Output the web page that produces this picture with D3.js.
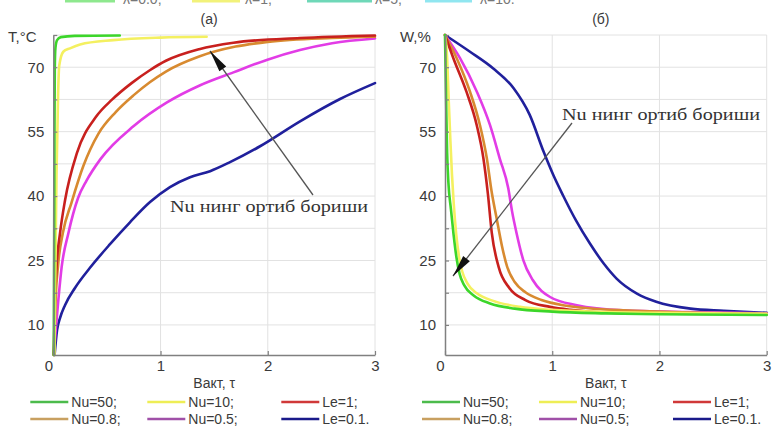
<!DOCTYPE html>
<html>
<head>
<meta charset="utf-8">
<script src="https://cdn.jsdelivr.net/npm/d3@7"></script>
<style>
  html, body { margin: 0; padding: 0; background: #fff; }
  svg { display: block; }
</style>
</head>
<body>
<svg id="chart" width="783" height="430"></svg>
<script>
// ---- Data -------------------------------------------------------------
const tauTicks = [0, 1, 2, 3];
const yGrid = [10, 17.5, 25, 32.5, 40, 47.5, 55, 62.5, 70, 77.5];
const yLabels = [10, 25, 40, 55, 70];
const seriesNames = ["Nu=50;", "Nu=10;", "Le=1;", "Nu=0.8;", "Nu=0.5;", "Le=0.1."];
const lineColors = ["#3cd62a", "#f4f060", "#c8201e", "#d88a30", "#e23ce6", "#20209c"];
const legendColors = ["#4cbb4c", "#eeee55", "#d03838", "#c8a060", "#a050a8", "#1a1a8a"];
const lambdaLabels = ["λ=0.0;", "λ=1;", "λ=5;", "λ=10."];
const lambdaColors = ["#8ee88e", "#f2f27a", "#6fd8b8", "#90e6f0"];

// Temperature T, °C versus time τ
const T_Nu50 = [[0.004,3],[0.008,30],[0.011,55],[0.014,70],[0.02,74.5],[0.035,76.3],[0.07,77],[0.2,77.3],[0.62,77.4]];
const T_Nu10 = [[0.01,3],[0.03,45],[0.045,64],[0.055,70.3],[0.093,73.6],[0.156,74.4],[0.25,75.3],[0.56,76.3],[1.0,76.9],[1.43,77.1]];
const T_Le1  = [[0.004,3],[0.016,15.8],[0.03,23.5],[0.063,31.4],[0.11,39.1],[0.22,50],[0.4,58.5],[0.55,62.5],[0.73,66.3],[0.9,69.3],[1.05,71.5],[1.36,74.2],[1.68,75.7],[2.3,76.8],[3,77.4]];
const T_Nu08 = [[0.006,3],[0.02,15],[0.045,24],[0.09,31.5],[0.17,38.5],[0.28,47],[0.42,54.5],[0.58,59.5],[0.75,63.5],[0.9,66.5],[1.05,69],[1.36,72.5],[1.7,74.8],[2.0,75.9],[2.6,76.8],[3,77.1]];
const T_Nu05 = [[0.006,3.5],[0.025,9.6],[0.047,15.8],[0.078,23.5],[0.14,31.3],[0.23,39.5],[0.31,43.6],[0.44,48.6],[0.75,56.3],[1.06,61.8],[1.37,65.8],[1.68,68.8],[1.99,71.7],[2.3,74],[2.6,75.6],[3,76.7]];
const T_Le01 = [[0.012,3],[0.035,8.8],[0.0625,11.6],[0.109,14.6],[0.202,18.6],[0.342,23.3],[0.529,28.8],[0.715,33.9],[0.902,38.6],[1.088,42.1],[1.275,44.4],[1.462,45.8],[1.648,47.9],[1.928,51.6],[2.301,57.4],[2.674,62.6],[3,66.3]];

// Moisture W, % versus time τ
const W_Nu50 = [[0,77.5],[0.005,70],[0.012,60],[0.02,50],[0.032,43],[0.055,37],[0.08,31],[0.105,26],[0.135,22],[0.18,19.2],[0.27,16.8],[0.42,15],[0.65,13.8],[1.0,13.1],[1.5,12.7],[2,12.5],[3,12.3]];
const W_Nu10 = [[0,77.5],[0.02,72],[0.035,62],[0.05,53],[0.065,45],[0.082,38],[0.105,31],[0.13,26],[0.16,22.5],[0.21,19.6],[0.3,17.3],[0.45,15.6],[0.7,14.2],[1.0,13.5],[1.5,13.0],[2,12.8],[3,12.6]];
const W_Le1  = [[0,77.5],[0.078,72.1],[0.2,64.3],[0.296,56.5],[0.358,48.8],[0.4,40.5],[0.436,31.5],[0.5,23.5],[0.6,18.6],[0.75,15.8],[0.98,14.2],[1.17,13.5],[1.4,13.0],[1.7,12.7],[3,12.5]];
const W_Nu08 = [[0,77.5],[0.109,72.1],[0.233,64.3],[0.326,56.5],[0.39,48.8],[0.435,41],[0.48,35],[0.53,28.5],[0.58,23.5],[0.65,20],[0.75,17.6],[0.9,15.8],[1.1,14.6],[1.66,13.4],[3,12.6]];
const W_Nu05 = [[0,77.5],[0.14,72.1],[0.297,64.3],[0.42,56.5],[0.51,48.8],[0.59,41.8],[0.625,36.5],[0.668,31.3],[0.73,25.1],[0.82,20.4],[0.98,16.5],[1.23,14.6],[1.66,13.4],[2.29,13.0],[3,12.7]];
const W_Le01 = [[0,77.5],[0.233,73.6],[0.45,69.7],[0.64,65.1],[0.79,58.9],[0.92,50.3],[1.01,44.9],[1.1,40.2],[1.22,34.4],[1.35,29.0],[1.48,24.3],[1.6,20.8],[1.79,17.3],[1.97,15.4],[2.29,13.8],[2.6,13.3],[3,12.8]];

const T_series = [T_Nu50, T_Nu10, T_Le1, T_Nu08, T_Nu05, T_Le01];
const W_series = [W_Nu50, W_Nu10, W_Le1, W_Nu08, W_Nu05, W_Le01];

// ---- Drawing ----------------------------------------------------------
const svg = d3.select("#chart");
const sans = "'Liberation Sans', Arial, sans-serif";
const serif = "'Liberation Serif', 'Times New Roman', serif";
const textColor = "#3a3a3a";

// Legend strip running off the top edge
const lambdaLineX = [[65, 115], [192, 240], [307, 372], [425, 472]];
const lambdaTextX = [123, 245, 375, 480];
lambdaLabels.forEach((lab, i) => {
  svg.append("line").attr("x1", lambdaLineX[i][0]).attr("x2", lambdaLineX[i][1])
    .attr("y1", 1).attr("y2", 1).attr("stroke", lambdaColors[i]).attr("stroke-width", 3);
  svg.append("text").attr("x", lambdaTextX[i]).attr("y", 4)
    .attr("font-family", sans).attr("font-size", 14).attr("fill", "#777").text(lab);
});

function panel(opts) {
  const x = d3.scaleLinear().domain([0, 3]).range([opts.left, opts.left + 321.7]);
  const y = d3.scaleLinear().domain([3, 77.5]).range([355, 35]);
  const g = svg.append("g");

  // grid
  g.selectAll(".hg").data(yGrid).join("line")
    .attr("x1", x(0)).attr("x2", x(3)).attr("y1", d => y(d)).attr("y2", d => y(d))
    .attr("stroke", "#e2e2e2").attr("stroke-width", 1);
  g.selectAll(".vg").data(tauTicks.slice(1)).join("line")
    .attr("x1", d => x(d)).attr("x2", d => x(d)).attr("y1", y(3)).attr("y2", y(77.5))
    .attr("stroke", "#e2e2e2").attr("stroke-width", 1);

  // curves
  const line = d3.line().x(d => x(d[0])).y(d => y(d[1])).curve(d3.curveMonotoneX);
  const order = [5, 4, 3, 2, 1, 0];
  order.forEach(i => {
    g.append("path").datum(opts.series[i]).attr("d", line)
      .attr("fill", "none").attr("stroke", lineColors[i]).attr("stroke-width", 2.6)
      .attr("stroke-linejoin", "round").attr("stroke-linecap", "round");
  });

  // axes
  const yAxis = d3.axisLeft(y).tickValues(yGrid).tickSizeInner(-4).tickSizeOuter(0)
    .tickPadding(9).tickFormat(d => yLabels.includes(d) ? d : "");
  const xAxis = d3.axisBottom(x).tickValues(tauTicks).tickSizeInner(-4).tickSizeOuter(0)
    .tickPadding(5).tickFormat(d3.format("d"));
  const ya = g.append("g").attr("transform", `translate(${x(0)},0)`).call(yAxis);
  const xa = g.append("g").attr("transform", `translate(0,${y(3)})`).call(xAxis);
  [ya, xa].forEach(a => {
    a.select(".domain").attr("stroke", "#808080").attr("stroke-width", 1.5);
    a.selectAll(".tick line").attr("stroke", "#808080").attr("stroke-width", 1.2);
    a.selectAll("text").attr("font-family", sans).attr("font-size", 15).attr("fill", textColor);
  });
  xa.selectAll(".tick text").filter(d => d === 0).attr("dx", -5);

  // titles
  g.append("text").attr("x", opts.yTitleX).attr("y", 42).attr("font-family", sans)
    .attr("font-size", 15).attr("fill", textColor).text(opts.yTitle);
  g.append("text").attr("x", (x(0) + x(3)) / 2 - 5).attr("y", 24).attr("text-anchor", "middle")
    .attr("font-family", sans).attr("font-size", 14).attr("fill", textColor).text(opts.title);
  g.append("text").attr("x", (x(0) + x(3)) / 2).attr("y", 388).attr("text-anchor", "middle")
    .attr("font-family", sans).attr("font-size", 14).attr("fill", textColor).text("Вакт, τ");

  // annotation
  const a = opts.arrow;
  g.append("text").attr("x", a.tx).attr("y", a.ty).attr("font-family", serif)
    .attr("font-size", 16).attr("fill", "#333").attr("textLength", 198)
    .attr("lengthAdjust", "spacingAndGlyphs").text("Nu нинг ортиб бориши");
  g.append("line").attr("x1", a.x1).attr("y1", a.y1).attr("x2", a.x2).attr("y2", a.y2)
    .attr("stroke", "#555").attr("stroke-width", 1.3);
  const ang = Math.atan2(a.y2 - a.y1, a.x2 - a.x1);
  const L = 22, W = 4.2;
  const bx = a.x2 - L * Math.cos(ang), by = a.y2 - L * Math.sin(ang);
  const px = -Math.sin(ang) * W, py = Math.cos(ang) * W;
  g.append("path")
    .attr("d", `M${a.x2},${a.y2}L${bx + px},${by + py}L${bx - px},${by - py}Z`)
    .attr("fill", "#111");

  // legend
  const colLine = [x(0) - 23, x(0) + 94, x(0) + 228];
  seriesNames.forEach((name, i) => {
    const row = Math.floor(i / 3), col = i % 3;
    const ly = 402 + row * 17;
    g.append("line").attr("x1", colLine[col]).attr("x2", colLine[col] + 38)
      .attr("y1", ly).attr("y2", ly).attr("stroke", legendColors[i]).attr("stroke-width", 2.6);
    g.append("text").attr("x", colLine[col] + 41).attr("y", ly + 5)
      .attr("font-family", sans).attr("font-size", 14).attr("fill", textColor).text(name);
  });
}

panel({
  left: 53.3, series: T_series, title: "(а)", yTitle: "T,°C", yTitleX: 8,
  arrow: { tx: 170, ty: 212, x1: 313, y1: 195, x2: 210, y2: 51 }
});
panel({
  left: 445, series: W_series, title: "(б)", yTitle: "W,%", yTitleX: 400,
  arrow: { tx: 562, ty: 120, x1: 572, y1: 123, x2: 453, y2: 276 }
});
</script>
</body>
</html>
